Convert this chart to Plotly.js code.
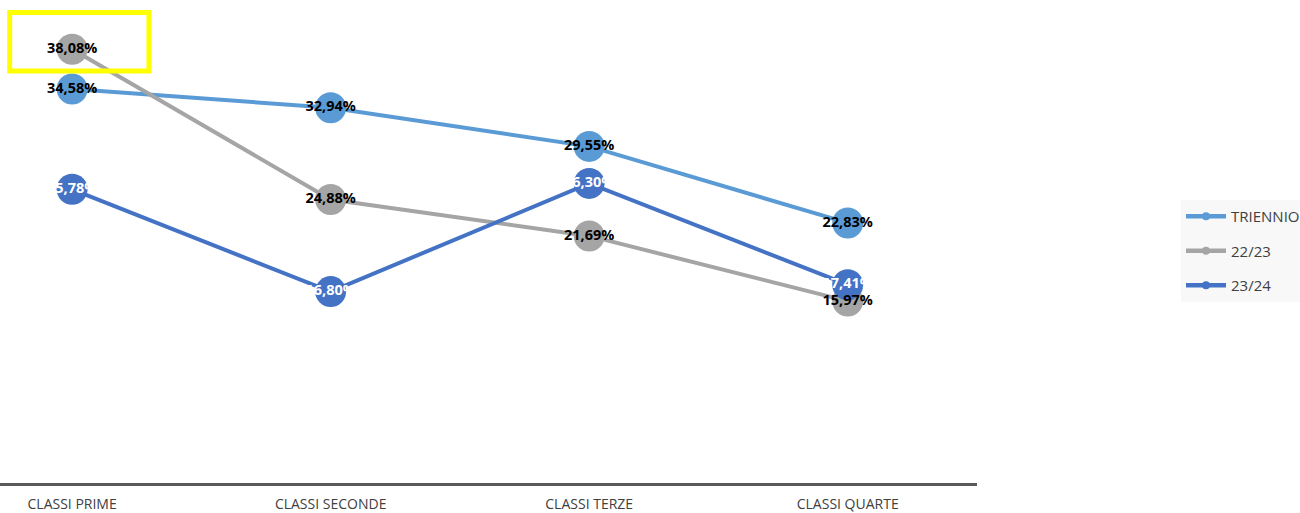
<!DOCTYPE html>
<html>
<head>
<meta charset="utf-8">
<script src="https://cdn.plot.ly/plotly-3.0.1.min.js"></script>
<style>html,body{margin:0;padding:0;background:#fff;}</style>
</head>
<body>
<div id="chart" style="width:1300px;height:513px;"></div>
<script>
const categories = ["CLASSI PRIME", "CLASSI SECONDE", "CLASSI TERZE", "CLASSI QUARTE"];
const triennio = [34.58, 32.94, 29.55, 22.83];
const a2223 = [38.08, 24.88, 21.69, 15.97];
const a2324 = [25.78, 16.80, 26.30, 17.41];
const seriesNames = ["TRIENNIO", "22/23", "23/24"];

const colors = ["#5B9BD5", "#A5A5A5", "#4472C4"];
const labelColors = ["#000000", "#000000", "#FFFFFF"];
const fmt = v => v.toFixed(2).replace('.', ',') + '%';
const allSeries = [triennio, a2223, a2324];
const xs = [0, 1, 2, 3];

const traces = [];
allSeries.forEach((vals, i) => {
  traces.push({
    x: xs, y: vals, name: seriesNames[i], type: 'scatter', mode: 'lines+markers',
    line: {color: colors[i], width: 4},
    marker: {color: colors[i], size: 31},
    showlegend: false,
    cliponaxis: false,
    hoverinfo: 'skip'
  });
});
allSeries.forEach((vals, i) => {
  traces.push({
    x: xs, y: vals, type: 'scatter', mode: 'text', showlegend: false,
    text: vals.map(fmt), textposition: 'middle center',
    textfont: {family: 'Open Sans, sans-serif', size: 14.5, color: labelColors[i], weight: 'bold'},
    cliponaxis: false, hoverinfo: 'skip'
  });
});
// legend entries (small markers like the reference legend)
seriesNames.forEach((n, i) => {
  traces.push({
    x: [null], y: [null], name: n, type: 'scatter', mode: 'lines+markers',
    line: {color: colors[i], width: 4.5},
    marker: {color: colors[i], size: 8},
    legendgroup: 'g' + i, showlegend: true, hoverinfo: 'skip'
  });
});

const layout = {
  width: 1300, height: 513,
  margin: {l: 0, r: 323, t: 0, b: 30, autoexpand: false},
  paper_bgcolor: '#ffffff', plot_bgcolor: '#ffffff',
  showlegend: true,
  legend: {
    x: 1.2088, xanchor: 'left', y: 0.586, yanchor: 'top',
    bgcolor: '#F8F8F8', tracegroupgap: 12,
    font: {family: 'Open Sans, sans-serif', size: 15, color: '#404040'},
    itemwidth: 40
  },
  xaxis: {
    range: [-0.279, 3.5],
    tickvals: xs, ticktext: categories,
    showgrid: false, zeroline: false,
    showline: true, linecolor: '#595959', linewidth: 3,
    ticks: '', ticklabelstandoff: 6,
    tickfont: {family: 'Open Sans, sans-serif', size: 14, color: '#404040'},
    automargin: false, fixedrange: true
  },
  yaxis: {
    range: [0, 42.4], visible: false, showgrid: false, zeroline: false,
    automargin: false, fixedrange: true
  },
  shapes: [{
    type: 'rect', xref: 'paper', yref: 'paper',
    x0: 0.0099, x1: 0.1525, y0: 1 - 71/483, y1: 1 - 12.5/483,
    line: {color: '#FFFF00', width: 5}, fillcolor: 'rgba(0,0,0,0)'
  }]
};

Plotly.newPlot('chart', traces, layout, {displayModeBar: false, staticPlot: true});
</script>
</body>
</html>
